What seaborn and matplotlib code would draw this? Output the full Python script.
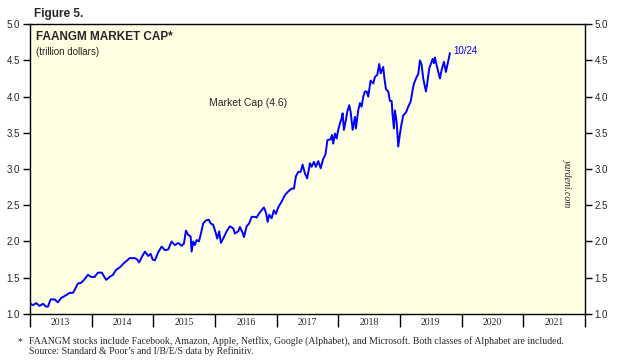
import numpy as np
import pandas as pd
import matplotlib
matplotlib.use("Agg")
import matplotlib.pyplot as plt
import seaborn as sns

# weekly-ish readings (decimal year, trillion dollars)
years = [
    2013.000, 2013.049, 2013.102, 2013.157, 2013.211, 2013.264, 2013.292, 2013.336,
    2013.401, 2013.454, 2013.508, 2013.589, 2013.644, 2013.697, 2013.725, 2013.778,
    2013.832, 2013.887, 2013.940, 2013.994, 2014.049, 2014.103, 2014.167, 2014.200,
    2014.237, 2014.292, 2014.346, 2014.399, 2014.454, 2014.536, 2014.578, 2014.617,
    2014.703, 2014.740, 2014.772, 2014.811, 2014.865, 2014.918, 2014.957, 2014.990,
    2015.027, 2015.080, 2015.136, 2015.189, 2015.243, 2015.298, 2015.351, 2015.405,
    2015.460, 2015.497, 2015.530, 2015.567, 2015.606, 2015.622, 2015.648, 2015.675,
    2015.703, 2015.740, 2015.773, 2015.810, 2015.854, 2015.902, 2015.930, 2015.972,
    2016.016, 2016.037, 2016.069, 2016.097, 2016.134, 2016.190, 2016.243, 2016.297,
    2016.324, 2016.378, 2016.405, 2016.449, 2016.470, 2016.514, 2016.556, 2016.595,
    2016.648, 2016.676, 2016.718, 2016.757, 2016.794, 2016.827, 2016.854, 2016.880,
    2016.919, 2016.956, 2016.989, 2017.026, 2017.081, 2017.135, 2017.188, 2017.243,
    2017.281, 2017.313, 2017.351, 2017.389, 2017.422, 2017.459, 2017.496, 2017.540,
    2017.568, 2017.605, 2017.637, 2017.675, 2017.714, 2017.756, 2017.792, 2017.824,
    2017.876, 2017.897, 2017.918, 2017.946, 2017.973, 2017.999, 2018.027, 2018.054,
    2018.070, 2018.091, 2018.124, 2018.145, 2018.177, 2018.200, 2018.233, 2018.270,
    2018.286, 2018.323, 2018.351, 2018.378, 2018.405, 2018.432, 2018.460, 2018.486,
    2018.524, 2018.567, 2018.594, 2018.632, 2018.664, 2018.687, 2018.729, 2018.745,
    2018.773, 2018.810, 2018.837, 2018.865, 2018.878, 2018.902, 2018.918, 2018.946,
    2018.972, 2019.000, 2019.027, 2019.053, 2019.097, 2019.134, 2019.173, 2019.205,
    2019.227, 2019.270, 2019.296, 2019.324, 2019.351, 2019.377, 2019.421, 2019.442,
    2019.475, 2019.530, 2019.551, 2019.567, 2019.595, 2019.621, 2019.648, 2019.676,
    2019.713, 2019.745, 2019.783, 2019.810,
]
market_cap = [
    1.15, 1.12, 1.15, 1.11, 1.14, 1.10, 1.10, 1.20,
    1.20, 1.16, 1.22, 1.26, 1.29, 1.29, 1.33, 1.42,
    1.43, 1.48, 1.54, 1.51, 1.51, 1.57, 1.57, 1.52,
    1.47, 1.51, 1.54, 1.61, 1.64, 1.71, 1.74, 1.77,
    1.77, 1.75, 1.71, 1.78, 1.86, 1.80, 1.83, 1.75,
    1.74, 1.85, 1.93, 1.88, 1.89, 2.00, 1.95, 1.98,
    1.94, 1.97, 2.15, 2.09, 2.07, 1.86, 2.00, 1.95,
    2.02, 2.00, 2.11, 2.25, 2.29, 2.30, 2.25, 2.23,
    2.11, 2.04, 2.14, 1.98, 2.04, 2.14, 2.21, 2.18,
    2.11, 2.14, 2.20, 2.12, 2.06, 2.21, 2.25, 2.34,
    2.34, 2.33, 2.39, 2.43, 2.47, 2.40, 2.27, 2.37,
    2.32, 2.43, 2.38, 2.47, 2.55, 2.64, 2.69, 2.73,
    2.73, 2.90, 2.96, 2.96, 3.06, 2.94, 2.87, 3.08,
    3.03, 3.10, 3.03, 3.11, 3.01, 3.14, 3.20, 3.40,
    3.41, 3.47, 3.35, 3.49, 3.42, 3.54, 3.63, 3.70,
    3.77, 3.54, 3.68, 3.79, 3.88, 3.79, 3.54, 3.72,
    3.56, 3.81, 3.91, 3.86, 4.00, 4.07, 4.07, 4.00,
    4.22, 4.18, 4.27, 4.30, 4.45, 4.32, 4.41, 4.27,
    4.10, 4.07, 3.94, 3.94, 3.77, 3.56, 3.81, 3.65,
    3.31, 3.49, 3.63, 3.74, 3.78, 3.86, 3.93, 4.09,
    4.18, 4.27, 4.31, 4.50, 4.44, 4.25, 4.07, 4.18,
    4.39, 4.52, 4.46, 4.54, 4.43, 4.34, 4.25, 4.37,
    4.48, 4.34, 4.49, 4.60,
]
year_labels = ["2013", "2014", "2015", "2016", "2017", "2018", "2019", "2020", "2021"]
y_ticks = [1.0, 1.5, 2.0, 2.5, 3.0, 3.5, 4.0, 4.5, 5.0]

df = pd.DataFrame({"year": years, "cap": market_cap})

sns.set_theme(style="white")
plt.rcParams["font.family"] = ["Liberation Sans", "DejaVu Sans"]

fig = plt.figure(figsize=(6.23, 3.6), dpi=100)
ax = fig.add_axes([0.048, 0.128, 0.891, 0.805])
ax.set_facecolor("#ffffe3")

sns.lineplot(data=df, x="year", y="cap", ax=ax, color="#0000ff", linewidth=1.4)

ax.set_xlim(2013, 2022)
ax.set_ylim(1.0, 5.0)
ax.set_xlabel("")
ax.set_ylabel("")

# year boundaries as ticks, labels centred in each year
ax.set_xticks(np.arange(2013, 2023))
ax.set_xticklabels([])
ax.set_xticks(np.arange(2013, 2022) + 0.5, minor=True)
ax.set_xticklabels(year_labels, minor=True, family="Liberation Serif", fontsize=7)
ax.tick_params(axis="x", which="major", direction="out", length=9, width=1, color="black", bottom=True)
ax.tick_params(axis="x", which="minor", length=0, pad=3)

ax.set_yticks(y_ticks)
ax.set_yticklabels([f"{v:.1f}" for v in y_ticks], fontsize=7)
ax.tick_params(axis="y", direction="out", length=5, width=1, color="black",
               left=True, right=True, labelleft=True, labelright=True, pad=2)

for s in ax.spines.values():
    s.set_color("black")
    s.set_linewidth(1.0)

fig.text(0.055, 0.962, "Figure 5.", fontsize=8.5, fontweight="bold", va="center")
ax.text(0.011, 0.975, "FAANGM MARKET CAP*", transform=ax.transAxes, fontsize=8.5,
        fontweight="bold", va="top")
ax.text(0.011, 0.92, "(trillion dollars)", transform=ax.transAxes, fontsize=7, va="top")
ax.text(2015.9, 3.91, "Market Cap (4.6)", fontsize=7.5, va="center", ha="left")
ax.text(2019.86, 4.63, "10/24", fontsize=7, color="#0000ff", va="center", ha="left")
ax.text(0.968, 0.45, "yardeni.com", transform=ax.transAxes, rotation=-90, fontsize=7,
        family="Liberation Serif", style="italic", va="center", ha="center")

fig.text(0.028, 0.052, "*", fontsize=7, family="Liberation Serif", va="center")
fig.text(0.046, 0.052, "FAANGM stocks include Facebook, Amazon, Apple, Netflix, Google (Alphabet), "
         "and Microsoft. Both classes of Alphabet are included.", fontsize=7,
         family="Liberation Serif", va="center")
fig.text(0.046, 0.024, "Source: Standard & Poor\u2019s and I/B/E/S data by Refinitiv.", fontsize=7,
         family="Liberation Serif", va="center")

fig.savefig("out.png", dpi=100, facecolor="white")
